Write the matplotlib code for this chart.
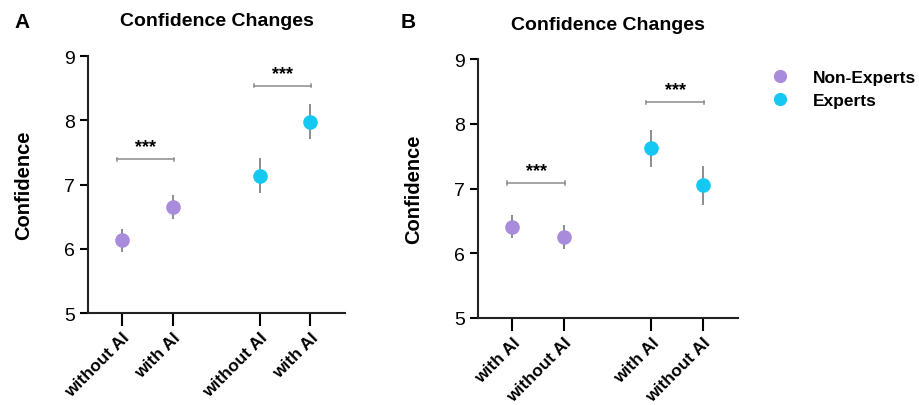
import matplotlib
matplotlib.use("Agg")
import matplotlib.pyplot as plt

plt.rcParams['font.family'] = ['Liberation Sans', 'DejaVu Sans']

# ---- data ----
labels_A = ["without AI", "with AI", "without AI", "with AI"]
mean_A = [6.13, 6.65, 7.14, 7.98]
err_A = [0.18, 0.18, 0.28, 0.27]
group_A = ["Non-Experts", "Non-Experts", "Experts", "Experts"]
sig_A = [(0, 1, 7.39, "***"), (2, 3, 8.54, "***")]

labels_B = ["with AI", "without AI", "with AI", "without AI"]
mean_B = [6.41, 6.25, 7.62, 7.05]
err_B = [0.18, 0.18, 0.28, 0.30]
group_B = ["Non-Experts", "Non-Experts", "Experts", "Experts"]
sig_B = [(0, 1, 7.08, "***"), (2, 3, 8.33, "***")]

positions = [0, 1, 2.7, 3.7]
colors = {"Non-Experts": "#A98BDC", "Experts": "#14C8F2"}

fig = plt.figure(figsize=(9.19, 4.06), dpi=100)
axA = fig.add_axes([0.0958, 0.2266, 0.2796, 0.633])
axB = fig.add_axes([0.520, 0.2143, 0.283, 0.6377])


def draw(ax, labels, means, errs, groups, sigs):
    for x, m, e, g in zip(positions, means, errs, groups):
        ax.errorbar(x, m, yerr=e, fmt='none', ecolor='#8c8c8c', elinewidth=1.4, capsize=0, zorder=2)
        ax.plot(x, m, 'o', color=colors[g], markersize=9.5, zorder=3)
    for i, j, y, s in sigs:
        x0, x1 = positions[i] - 0.1, positions[j] + 0.02
        ax.plot([x0, x1], [y, y], '-', color='#8c8c8c', linewidth=1.1)
        ax.plot([x0, x0], [y - 0.03, y + 0.03], color='#8c8c8c', lw=1.1)
        ax.plot([x1, x1], [y - 0.03, y + 0.03], color='#8c8c8c', lw=1.1)
        ax.text((x0 + x1) / 2, y + 0.06, s, ha='center', va='bottom', fontsize=13, fontweight='bold')
    ax.set_ylim(5, 9)
    ax.set_yticks([5, 6, 7, 8, 9])
    ax.set_xlim(-0.67, 4.38)
    ax.set_xticks(positions)
    ax.set_xticklabels(labels, rotation=45, ha='right', rotation_mode='anchor',
                       fontsize=12.5, fontweight='bold')
    ax.tick_params(axis='y', labelsize=14, length=6, width=1.5, direction='out')
    ax.tick_params(axis='x', length=9, width=1.5, direction='out', pad=3)
    for sp in ['top', 'right']:
        ax.spines[sp].set_visible(False)
    for sp in ['left', 'bottom']:
        ax.spines[sp].set_linewidth(1.5)
        ax.spines[sp].set_color('#222222')
    ax.set_ylabel("Confidence", fontsize=14.5, fontweight='bold', labelpad=22)
    ax.set_title("Confidence Changes", fontsize=14, fontweight='bold', pad=22)


draw(axA, labels_A, mean_A, err_A, group_A, sig_A)
draw(axB, labels_B, mean_B, err_B, group_B, sig_B)

fig.text(0.016, 0.93, "A", fontsize=15, fontweight='bold')
fig.text(0.436, 0.93, "B", fontsize=15, fontweight='bold')

handles = [plt.Line2D([], [], marker='o', linestyle='none', color=colors[g], markersize=8.5)
           for g in ["Non-Experts", "Experts"]]
fig.legend(handles, ["Non-Experts", "Experts"], loc='upper left', bbox_to_anchor=(0.813, 0.865),
           frameon=False, prop={'weight': 'bold', 'size': 12.5}, handletextpad=0.9, labelspacing=0.5)

fig.savefig("out.png", dpi=100)
